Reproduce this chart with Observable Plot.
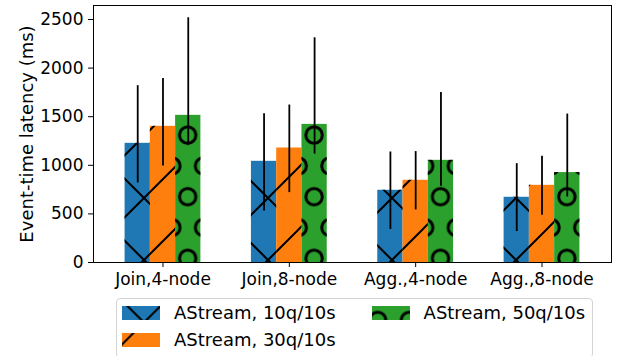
<!DOCTYPE html>
<html><head><meta charset="utf-8">
<script src="https://cdn.jsdelivr.net/npm/d3@7"></script>
<script src="https://cdn.jsdelivr.net/npm/@observablehq/plot@0.6"></script>
<style>
body{margin:0;background:#fff;font-family:"DejaVu Sans",sans-serif;}
#chart{position:relative;width:621px;height:356px;overflow:hidden;}
#legend{position:absolute;left:116px;top:298px;width:477px;height:60px;box-sizing:border-box;border:1px solid #d4d4d4;border-radius:4px;display:grid;grid-auto-flow:column;grid-template-rows:27px 27px;grid-template-columns:auto auto;justify-content:start;column-gap:36px;padding-left:5px;}
.item{display:flex;align-items:center;height:27px;font-size:18px;color:#000;white-space:nowrap;}
.item svg{margin-right:14px;display:block;}
</style></head><body><div id="chart"></div>
<script>
const categories = ["Join,4-node", "Join,8-node", "Agg.,4-node", "Agg.,8-node"];
const seriesNames = ["AStream, 10q/10s", "AStream, 30q/10s", "AStream, 50q/10s"];
const colors = ["#1f77b4", "#ff7f0e", "#2ca02c"];
const mean10 = [1226, 1041, 743, 671];
const mean30 = [1401, 1178, 846, 794];
const mean50 = [1514, 1421, 1051, 925];
const low10 = [818, 530, 339, 319];
const high10 = [1819, 1531, 1137, 1017];
const low30 = [993, 719, 541, 486];
const high30 = [1894, 1620, 1141, 1092];
const low50 = [1202, 1116, 784, 674];
const high50 = [2518, 2312, 1750, 1527];
const yTicks = [0, 500, 1000, 1500, 2000, 2500];
const yLabel = "Event-time latency (ms)";

const means = [mean10, mean30, mean50];
const lows = [low10, low30, low50];
const highs = [high10, high30, high50];

const data = [];
categories.forEach((c, gi) => seriesNames.forEach((s, si) => data.push({
  cat: c, gi, series: s, si, value: means[si][gi], lo: lows[si][gi], hi: highs[si][gi]
})));

const barW = 0.2;
const xc = d => d.gi + (d.si - 1) * barW;
const x1 = d => xc(d) - barW / 2;
const x2 = d => xc(d) + barW / 2;

const plot = Plot.plot({
  width: 621, height: 292,
  marginLeft: 93, marginRight: 10, marginTop: 5, marginBottom: 30,
  style: {fontFamily: "DejaVu Sans", fontSize: "17px", color: "black", background: "white", overflow: "visible"},
  x: {type: "linear", domain: [-0.55, 3.55]},
  y: {domain: [0, 2644]},
  color: {domain: seriesNames, range: colors},
  marks: [
    Plot.rectY(data, {x1, x2, y1: 0, y2: "value", fill: "series"}),
    ...seriesNames.map((s, si) => Plot.rectY(data.filter(d => d.si === si), {x1, x2, y1: 0, y2: "value", fill: `url(#hatch${si})`})),
    Plot.ruleX(data, {x: xc, y1: "lo", y2: "hi", stroke: "black", strokeWidth: 1.8}),
    Plot.frame({stroke: "black", strokeWidth: 1}),
    Plot.axisX({ticks: [0, 1, 2, 3], tickFormat: i => categories[i], tickSize: 5, tickPadding: 5, fontSize: 17, label: null}),
    Plot.axisY({ticks: yTicks, tickFormat: d => String(d), tickSize: 5, tickPadding: 5, fontSize: 17, label: null}),
    Plot.axisY({ticks: [], tickSize: 0, label: yLabel, labelAnchor: "center", labelOffset: 73, labelArrow: "none", fontSize: 18})
  ]
});

// global hatch lattice (page coordinates)
const P = 62, hox = 51, hoy = 43;
const CX = 31.6, CY = 61.6, cox = 29.7, coy = 11.9;

function addPatterns(svgSel, prefix, dx, dy) {
  const defs = svgSel.insert("defs", ":first-child");
  const slash = `M0,${P} L${P},0 M-4,4 L4,-4 M${P-4},${P+4} L${P+4},${P-4}`;
  const back = `M0,0 L${P},${P} M${P-4},-4 L${P+4},4 M-4,${P-4} L4,${P+4}`;
  const p0 = defs.append("pattern").attr("id", prefix + "0").attr("patternUnits", "userSpaceOnUse")
    .attr("width", P).attr("height", P).attr("x", hox - dx).attr("y", hoy - dy);
  p0.append("path").attr("d", slash + " " + back).attr("stroke", "black").attr("stroke-width", 2).attr("fill", "none");
  const p1 = defs.append("pattern").attr("id", prefix + "1").attr("patternUnits", "userSpaceOnUse")
    .attr("width", P).attr("height", P).attr("x", hox - dx).attr("y", hoy - dy);
  p1.append("path").attr("d", slash).attr("stroke", "black").attr("stroke-width", 2).attr("fill", "none");
  const p2 = defs.append("pattern").attr("id", prefix + "2").attr("patternUnits", "userSpaceOnUse")
    .attr("width", CX).attr("height", CY).attr("x", cox - dx).attr("y", coy - dy);
  [[0,0],[CX,0],[0,CY],[CX,CY],[CX/2,CY/2]].forEach(([cx, cy]) =>
    p2.append("circle").attr("cx", cx).attr("cy", cy).attr("r", 8.2).attr("fill", "none").attr("stroke", "black").attr("stroke-width", 3));
}

const chart = document.getElementById("chart");
chart.appendChild(plot);
addPatterns(d3.select(plot), "hatch", 0, 0);

const legend = document.createElement("div");
legend.id = "legend";
chart.appendChild(legend);
seriesNames.forEach((s, si) => {
  const item = document.createElement("div");
  item.className = "item";
  const sv = d3.create("svg").attr("width", 38).attr("height", 14);
  item.appendChild(sv.node());
  const span = document.createElement("span");
  span.textContent = s;
  item.appendChild(span);
  legend.appendChild(item);
  const r = sv.node().getBoundingClientRect();
  addPatterns(sv, "lhatch" + si + "_", r.left, r.top);
  sv.append("rect").attr("width", 38).attr("height", 14).attr("fill", colors[si]);
  sv.append("rect").attr("width", 38).attr("height", 14).attr("fill", `url(#lhatch${si}_${si})`);
});
</script></body></html>
